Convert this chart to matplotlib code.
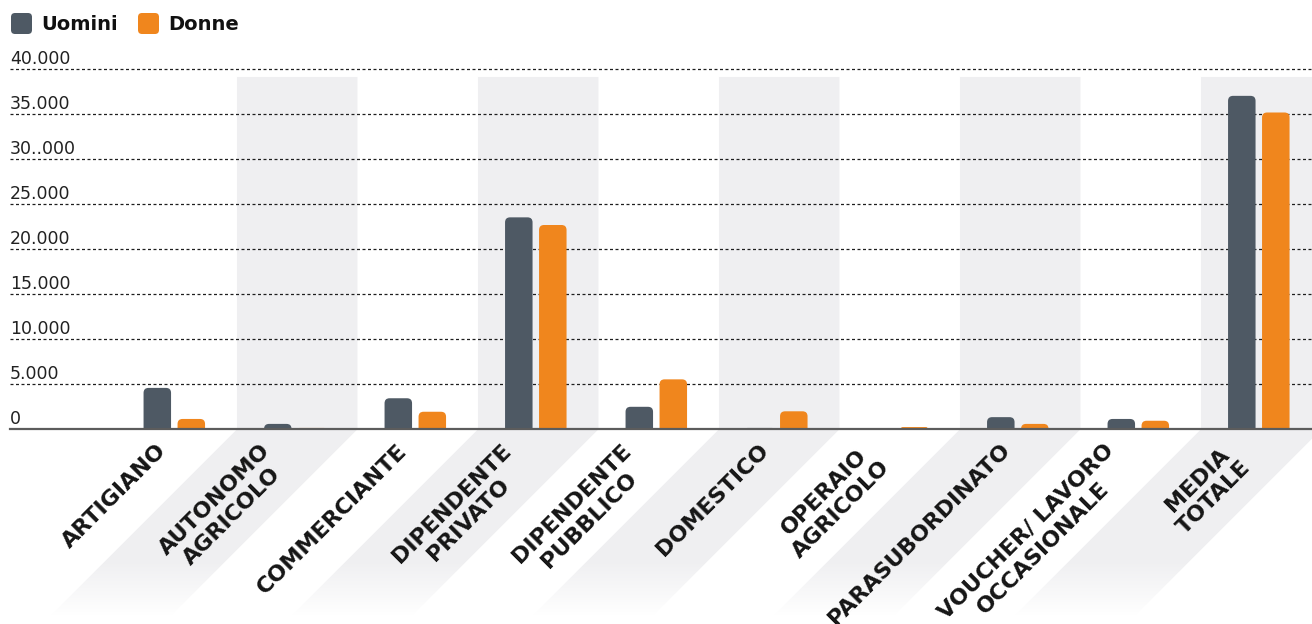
import numpy as np
import matplotlib
matplotlib.use("Agg")
import matplotlib.pyplot as plt
from matplotlib.patches import FancyBboxPatch, Polygon
from matplotlib.transforms import IdentityTransform

# ---- data -------------------------------------------------------------
categories = [
    "ARTIGIANO", "AUTONOMO\nAGRICOLO", "COMMERCIANTE", "DIPENDENTE\nPRIVATO",
    "DIPENDENTE\nPUBBLICO", "DOMESTICO", "OPERAIO\nAGRICOLO", "PARASUBORDINATO",
    "VOUCHER/ LAVORO\nOCCASIONALE", "MEDIA\nTOTALE",
]
uomini = [4600, 600, 3450, 23550, 2500, 150, 0, 1350, 1150, 37050]
donne = [1150, 150, 1950, 22700, 5550, 2000, 250, 600, 950, 35200]
series_names = ["Uomini", "Donne"]
series_colors = ["#4e5964", "#f0861d"]
ytick_values = [0, 5000, 10000, 15000, 20000, 25000, 30000, 35000, 40000]
ytick_labels = ["0", "5.000", "10.000", "15.000", "20.000", "25.000",
                "30..000", "35.000", "40.000"]

# ---- figure / axes geometry (pixels) ----------------------------------
W, H = 1312, 624
fig = plt.figure(figsize=(W / 100, H / 100), dpi=100)
fig.patch.set_facecolor("white")

base_px = 429.3          # baseline row
top_px = 69.3            # row of the top gridline
left_px = 10
ax = fig.add_axes([left_px / W, (H - base_px) / H, (W - left_px) / W,
                   (base_px - top_px) / H])
ax.set_axis_off()
xmin, xmax = -1.3635, 9.4415
ymin, ymax = 0, 40000
ax.set_xlim(xmin, xmax)
ax.set_ylim(ymin, ymax)

px_x = (W - left_px) / (xmax - xmin)          # pixels per category unit
px_y = (base_px - top_px) / (ymax - ymin)      # pixels per value unit

x = np.arange(len(categories))
band_color = "#efeff1"

# ---- alternating slanted background bands -----------------------------
band_top = 39150
depth_px = 188
ybot = -depth_px / px_y
shift = depth_px / px_x
for i in x[1::2]:
    xl, xr = i - 0.48, i + 0.52
    verts = [(xl, band_top), (xr, band_top), (xr, 0), (xr - shift, ybot),
             (xl - shift, ybot), (xl, 0)]
    ax.add_patch(Polygon(verts, closed=True, facecolor=band_color,
                         edgecolor="none", zorder=0, clip_on=False))

# white fade at the foot of the bands
fade_top_px, fade_bot_px = 560, 624
n = 64
alpha = np.clip(np.linspace(0, 1.15, n), 0, 1)
grad = np.ones((n, 1, 4))
grad[:, 0, 3] = alpha
ax.imshow(grad, extent=(xmin - 0.5, xmax + 0.5,
                        -(fade_bot_px - base_px) / px_y,
                        -(fade_top_px - base_px) / px_y),
          origin="upper", aspect="auto", zorder=0.5, clip_on=False,
          interpolation="bilinear")
ax.set_xlim(xmin, xmax)
ax.set_ylim(ymin, ymax)

# ---- gridlines & baseline --------------------------------------------
for v in ytick_values[1:]:
    ax.axhline(v, color="#1e1e1e", lw=0.9, linestyle=(0, (2.4, 2.0)),
               zorder=1.5, clip_on=False)
ax.axhline(0, color="#5c5c5c", lw=1.6, zorder=4, clip_on=False)

# y tick labels sitting on their gridlines
for v, lab in zip(ytick_values, ytick_labels):
    ax.annotate(lab, xy=(0, v), xycoords=ax.get_yaxis_transform(),
                xytext=(0, 3.5), textcoords="offset points",
                ha="left", va="baseline", fontsize=12.5, color="#222222",
                annotation_clip=False)

# ---- bars with rounded tops ------------------------------------------
bar_w = 27.5 / px_x
offset = 17 / px_x
radius_px = 5
aspect = px_x / px_y


def round_tops(container, color):
    for rect in container:
        rx, ry = rect.get_x(), rect.get_y()
        rw, rh = rect.get_width(), rect.get_height()
        rect.set_visible(False)
        r_px = min(radius_px, max(rh * px_y, 1.0))
        r = r_px / px_x
        ext = 2 * r * aspect
        ax.add_patch(FancyBboxPatch(
            (rx, ry - ext), rw, rh + ext,
            boxstyle=f"round,pad=0,rounding_size={r}",
            mutation_aspect=aspect, facecolor=color, edgecolor="none",
            zorder=3))


bars_u = ax.bar(x - offset, uomini, bar_w, color=series_colors[0])
bars_d = ax.bar(x + offset, donne, bar_w, color=series_colors[1])
round_tops(bars_u, series_colors[0])
round_tops(bars_d, series_colors[1])

# ---- rotated category labels -----------------------------------------
for i, lab in zip(x, categories):
    nlines = lab.count("\n") + 1
    dx_px, dy_px = -4, -25 - 17 * (nlines - 1)
    ax.annotate(lab, xy=(i, 0), xytext=(dx_px * 0.72, dy_px * 0.72),
                textcoords="offset points", rotation=45,
                rotation_mode="anchor", ha="right", va="bottom",
                multialignment="center", fontsize=16, fontweight="bold",
                color="#151515", linespacing=1.27, annotation_clip=False,
                zorder=6)

# ---- legend ----------------------------------------------------------
legend_items = [(11, 41), (138, 168)]
for (sx, tx), name, col in zip(legend_items, series_names, series_colors):
    fig.add_artist(FancyBboxPatch(
        (sx, H - 34), 21, 21, boxstyle="round,pad=0,rounding_size=4",
        transform=IdentityTransform(), facecolor=col, edgecolor="none"))
    fig.text(tx / W, 1 - 24 / H, name, ha="left", va="center",
             fontsize=14, fontweight="bold", color="#111111")

fig.savefig("out.png", dpi=100)
